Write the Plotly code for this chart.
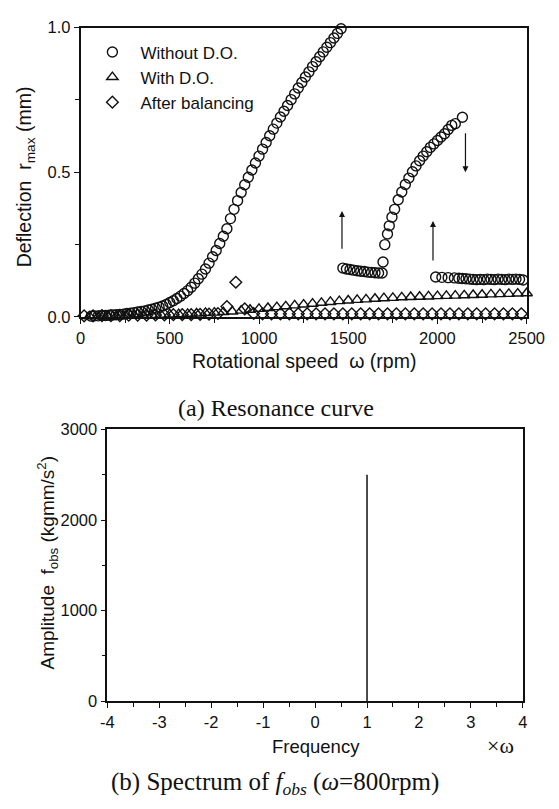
import plotly.graph_objects as go

# ---------------- (a) Resonance curve data ----------------
# Without D.O. : branch 1 (rising to off-scale)
wo1_rpm = [60, 80, 100, 120, 140, 160, 180, 200, 220, 240, 260, 280, 300, 320, 340, 360,
           380, 400, 420, 440, 460, 480, 500, 520, 540, 560, 580, 600, 620, 640, 660, 680,
           700, 720, 740, 760, 780, 800, 820, 840, 860, 880, 900, 920, 940, 960, 980, 1000,
           1020, 1040, 1060, 1080, 1100, 1120, 1140, 1160, 1180, 1200, 1220, 1240, 1260,
           1280, 1300, 1320, 1340, 1360, 1380, 1400, 1420, 1440, 1460]
wo1_val = [0.003, 0.004, 0.004, 0.005, 0.005, 0.006, 0.007, 0.008, 0.009, 0.010, 0.012,
           0.013, 0.015, 0.017, 0.019, 0.021, 0.024, 0.027, 0.030, 0.034, 0.038, 0.043,
           0.050, 0.056, 0.064, 0.072, 0.081, 0.091, 0.103, 0.117, 0.132, 0.148, 0.166,
           0.186, 0.208, 0.230, 0.254, 0.279, 0.305, 0.340, 0.372, 0.402, 0.430, 0.457,
           0.483, 0.508, 0.532, 0.556, 0.580, 0.603, 0.626, 0.649, 0.670, 0.691, 0.711,
           0.731, 0.751, 0.771, 0.791, 0.810, 0.829, 0.847, 0.865, 0.882, 0.899, 0.916,
           0.932, 0.948, 0.964, 0.980, 0.996]
# branch 2 (low plateau after jump up)
wo2_rpm = [1470, 1490, 1510, 1530, 1550, 1570, 1590, 1610, 1630, 1650, 1670, 1690]
wo2_val = [0.169, 0.166, 0.164, 0.162, 0.160, 0.158, 0.157, 0.155, 0.154, 0.153, 0.152, 0.152]
# branch 3 (second rising branch)
wo3_rpm = [1695, 1705, 1720, 1730, 1745, 1760, 1780, 1800, 1820, 1840, 1860, 1880, 1900,
           1920, 1940, 1960, 1980, 2000, 2020, 2040, 2060, 2080, 2100, 2140]
wo3_val = [0.190, 0.250, 0.287, 0.315, 0.345, 0.372, 0.405, 0.432, 0.458, 0.480, 0.502,
           0.522, 0.540, 0.556, 0.571, 0.586, 0.598, 0.610, 0.622, 0.633, 0.648, 0.662,
           0.668, 0.690]
# branch 4 (after jump down)
wo4_rpm = [1990, 2025, 2060, 2095, 2120, 2140, 2160, 2180, 2200, 2220, 2240, 2260, 2280,
           2300, 2320, 2340, 2360, 2380, 2400, 2420, 2440, 2460, 2480]
wo4_val = [0.138, 0.137, 0.136, 0.135, 0.134, 0.133, 0.132, 0.131, 0.130, 0.129, 0.130,
           0.129, 0.131, 0.130, 0.129, 0.131, 0.130, 0.129, 0.131, 0.130, 0.131, 0.130, 0.128]

# With D.O.
wd_rpm = [50, 100, 150, 200, 250, 300, 350, 400, 450, 500, 550, 600, 650, 700, 750, 800,
          850, 900, 950, 1000, 1050, 1100, 1150, 1200, 1250, 1300, 1350, 1400, 1450, 1500,
          1550, 1600, 1650, 1700, 1750, 1800, 1850, 1900, 1950, 2000, 2050, 2100, 2150,
          2200, 2250, 2300, 2350, 2400, 2450, 2500]
wd_val = [0.002, 0.003, 0.003, 0.004, 0.004, 0.005, 0.006, 0.007, 0.008, 0.009, 0.010,
          0.011, 0.012, 0.014, 0.015, 0.017, 0.019, 0.022, 0.025, 0.028, 0.031, 0.034,
          0.037, 0.040, 0.043, 0.046, 0.049, 0.052, 0.055, 0.057, 0.059, 0.061, 0.063,
          0.065, 0.066, 0.068, 0.069, 0.070, 0.071, 0.072, 0.073, 0.074, 0.075, 0.076,
          0.077, 0.078, 0.079, 0.080, 0.081, 0.082]

# After balancing
ab_rpm = [20, 70, 120, 170, 220, 270, 320, 370, 420, 470, 520, 570, 620, 670, 720, 770,
          820, 870, 920, 970, 1020, 1070, 1120, 1170, 1220, 1270, 1320, 1370, 1420, 1470,
          1520, 1570, 1620, 1670, 1720, 1770, 1820, 1870, 1920, 1970, 2020, 2070, 2120,
          2170, 2220, 2270, 2320, 2370, 2420, 2470]
ab_val = [0.004, 0.004, 0.005, 0.005, 0.005, 0.006, 0.006, 0.006, 0.007, 0.007, 0.008,
          0.008, 0.008, 0.009, 0.010, 0.012, 0.036, 0.120, 0.028, 0.012, 0.011, 0.011,
          0.011, 0.011, 0.011, 0.011, 0.011, 0.011, 0.011, 0.011, 0.011, 0.011, 0.011,
          0.011, 0.011, 0.011, 0.011, 0.011, 0.011, 0.011, 0.011, 0.011, 0.011, 0.011,
          0.011, 0.011, 0.011, 0.011, 0.011, 0.011]

# Jump arrows: (rpm, tail value, head value)
arrow_rpm = [1465, 1975, 2157]
arrow_from = [0.231, 0.190, 0.640]
arrow_to = [0.366, 0.332, 0.500]

# ---------------- (b) Spectrum data ----------------
freq = [1, 1]
amp = [0, 2500]
freq_ticks = [-4, -3, -2, -1, 0, 1, 2, 3, 4]
freq_ticktext = ["-4", "-3", "-2", "-1", "0", "1", "2", "3", "4"]

W, H = 559, 809
SANS = "Liberation Sans, Arial, sans-serif"
SERIF = "Liberation Serif, Times New Roman, serif"
BLACK = "#111111"

fig = go.Figure()

circ = dict(symbol="circle-open", size=10, color=BLACK, line=dict(width=1.4, color=BLACK))
for i, (xs, ys) in enumerate([(wo1_rpm, wo1_val), (wo2_rpm, wo2_val),
                              (wo3_rpm, wo3_val), (wo4_rpm, wo4_val)]):
    fig.add_trace(go.Scatter(x=xs, y=ys, mode="markers", marker=circ,
                             name="Without D.O.", legendgroup="wo",
                             showlegend=(i == 0), cliponaxis=False,
                             xaxis="x", yaxis="y"))
fig.add_trace(go.Scatter(x=wd_rpm, y=wd_val, mode="markers",
                         marker=dict(symbol="triangle-up-open", size=10, color=BLACK,
                                     line=dict(width=1.4, color=BLACK)),
                         name="With D.O.", legendgroup="wd", cliponaxis=False,
                         xaxis="x", yaxis="y"))
fig.add_trace(go.Scatter(x=ab_rpm, y=ab_val, mode="markers",
                         marker=dict(symbol="diamond-open", size=9, color=BLACK,
                                     line=dict(width=1.4, color=BLACK)),
                         name="After balancing", legendgroup="ab", cliponaxis=False,
                         xaxis="x", yaxis="y"))

fig.add_trace(go.Scatter(x=freq, y=amp, mode="lines",
                         line=dict(color=BLACK, width=1.5), showlegend=False,
                         xaxis="x2", yaxis="y2"))

def px_x(p):
    return p / W

def px_y(p):
    return 1 - p / H

axis_common = dict(showgrid=False, zeroline=False, showline=True, linecolor=BLACK,
                   linewidth=1.6, mirror=True, ticks="outside", tickcolor=BLACK,
                   tickwidth=1.3, ticklen=5, color=BLACK)

fig.update_layout(
    width=W, height=H, margin=dict(l=0, r=0, t=0, b=0),
    paper_bgcolor="white", plot_bgcolor="white",
    font=dict(family=SANS, size=17, color=BLACK),
    showlegend=True,
    legend=dict(x=px_x(81), y=px_y(26), xanchor="left", yanchor="top",
                bgcolor="rgba(0,0,0,0)", font=dict(size=17, family=SANS),
                tracegroupgap=0, itemwidth=46),
    xaxis=dict(domain=[px_x(77), px_x(544)], range=[0, 2500], anchor="y",
               tickvals=[0, 500, 1000, 1500, 2000, 2500],
               minor=dict(dtick=250, ticks="outside", ticklen=4, tickcolor=BLACK),
               tickfont=dict(size=16.5), ticklabelstandoff=0, **axis_common),
    yaxis=dict(domain=[px_y(315), px_y(19)], range=[0, 1], anchor="x",
               tickvals=[0, 0.5, 1.0], tickformat=".1f",
               minor=dict(dtick=0.25, ticks="outside", ticklen=4, tickcolor=BLACK),
               tickfont=dict(size=16.5), **axis_common),
    xaxis2=dict(domain=[px_x(105), px_x(540)], range=[-4, 4], anchor="y2",
                tickvals=freq_ticks, ticktext=freq_ticktext,
                minor=dict(dtick=0.5, ticks="outside", ticklen=4, tickcolor=BLACK),
                tickfont=dict(size=16.5), ticklabelstandoff=0, **axis_common),
    yaxis2=dict(domain=[px_y(708), px_y(430)], range=[0, 3000], anchor="x2",
                tickvals=[0, 1000, 2000, 3000],
                minor=dict(dtick=500, ticks="outside", ticklen=4, tickcolor=BLACK),
                tickfont=dict(size=16.5), **axis_common),
)

ann = []
# axis titles (a)
ann.append(dict(x=px_x(311), y=px_y(360), xref="paper", yref="paper",
                text="Rotational speed  ω (rpm)", showarrow=False,
                font=dict(size=19.5, family=SANS), xanchor="center", yanchor="middle"))
ann.append(dict(x=px_x(19), y=px_y(172), xref="paper", yref="paper",
                text="Deflection  r<sub>max</sub> (mm)", showarrow=False, textangle=-90,
                font=dict(size=19.5, family=SANS), xanchor="center", yanchor="middle"))
ann.append(dict(x=px_x(282), y=px_y(408), xref="paper", yref="paper",
                text="(a) Resonance curve", showarrow=False,
                font=dict(size=24, family=SERIF), xanchor="center", yanchor="middle"))
# axis titles (b)
ann.append(dict(x=px_x(323), y=px_y(754), xref="paper", yref="paper",
                text="Frequency", showarrow=False,
                font=dict(size=18.5, family=SANS), xanchor="center", yanchor="middle"))
ann.append(dict(x=px_x(517), y=px_y(753), xref="paper", yref="paper",
                text="×ω", showarrow=False,
                font=dict(size=22, family=SERIF), xanchor="center", yanchor="middle"))
ann.append(dict(x=px_x(42), y=px_y(566), xref="paper", yref="paper",
                text="Amplitude  f<sub>obs</sub> (kgmm/s<sup>2</sup>)", showarrow=False,
                textangle=-90, font=dict(size=19, family=SANS),
                xanchor="center", yanchor="middle"))
ann.append(dict(x=px_x(281), y=px_y(792), xref="paper", yref="paper",
                text="(b) Spectrum of <i>f</i><sub><i>obs</i></sub> (<i>ω</i>=800rpm)",
                showarrow=False, font=dict(size=25, family=SERIF),
                xanchor="center", yanchor="middle"))
# jump arrows
for r, y0, y1 in zip(arrow_rpm, arrow_from, arrow_to):
    ann.append(dict(x=r, y=y1, ax=r, ay=y0, xref="x", yref="y", axref="x", ayref="y",
                    showarrow=True, arrowhead=2, arrowsize=1.0, arrowwidth=1.2,
                    arrowcolor=BLACK, text=""))
fig.update_layout(annotations=ann)

fig.write_html("out.html")
